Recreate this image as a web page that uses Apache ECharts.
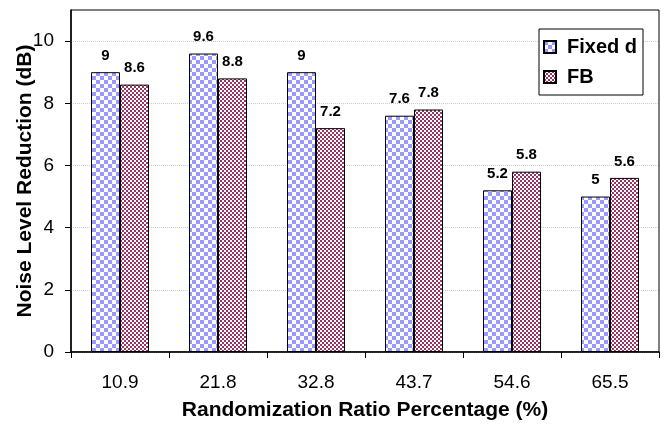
<!DOCTYPE html>
<html>
<head>
<meta charset="utf-8">
<script src="https://cdn.jsdelivr.net/npm/echarts@6/dist/echarts.min.js"></script>
<style>
  html, body { margin: 0; padding: 0; background: #fff; }
  #chart { width: 665px; height: 426px; }
</style>
</head>
<body>
<div id="chart"></div>
<script>
// Randomization ratio (%) on the x axis
const categories = ['10.9', '21.8', '32.8', '43.7', '54.6', '65.5'];
// Noise level reduction (dB) per method
const fixedD = [9, 9.6, 9, 7.6, 5.2, 5];
const fb = [8.6, 8.8, 7.2, 7.8, 5.8, 5.6];
// Labelled y ticks
const yTicks = [0, 2, 4, 6, 8, 10];

const FONT = 'Arial, "Liberation Sans", sans-serif';

// Checkerboard fill tiles drawn on small canvases
function checker(size, fg, bg) {
  const c = document.createElement('canvas');
  c.width = size * 2;
  c.height = size * 2;
  const g = c.getContext('2d');
  g.fillStyle = bg;
  g.fillRect(0, 0, size * 2, size * 2);
  g.fillStyle = fg;
  g.fillRect(0, 0, size, size);
  g.fillRect(size, size, size, size);
  return c;
}
const bluePattern = { image: checker(4, '#9999ff', '#ffffff'), repeat: 'repeat' };
const redPattern = { image: checker(2, '#993366', '#ffffff'), repeat: 'repeat' };

const chart = echarts.init(document.getElementById('chart'), null, { renderer: 'canvas' });

const barLabel = {
  show: true,
  position: 'top',
  distance: 9,
  color: '#000',
  fontFamily: FONT,
  fontWeight: 'bold',
  fontSize: 15
};

chart.setOption({
  animation: false,
  backgroundColor: '#fff',
  grid: {
    left: 71, right: 6, top: 10, bottom: 74,
    outerBoundsMode: 'none',
    show: true, borderColor: '#000', borderWidth: 1
  },
  legend: {
    orient: 'vertical',
    left: 539, top: 29,
    padding: [8, 6, 8, 4],
    itemGap: 10,
    itemWidth: 12, itemHeight: 12,
    backgroundColor: '#fff',
    borderColor: '#000',
    borderWidth: 1,
    borderRadius: 0,
    icon: 'rect',
    textStyle: { color: '#000', fontFamily: FONT, fontWeight: 'bold', fontSize: 20, padding: [0, 0, 0, 6] },
    data: ['Fixed d', 'FB']
  },
  xAxis: {
    type: 'category',
    data: categories,
    name: 'Randomization Ratio Percentage (%)',
    nameLocation: 'middle',
    nameGap: 48,
    nameMoveOverlap: false,
    nameTextStyle: { color: '#000', fontFamily: FONT, fontWeight: 'bold', fontSize: 21 },
    axisLine: { lineStyle: { color: '#000', width: 1.5 } },
    axisTick: { show: true, length: 6, lineStyle: { color: '#000' } },
    axisLabel: { color: '#000', fontFamily: FONT, fontSize: 19, margin: 21 }
  },
  yAxis: {
    type: 'value',
    min: 0, max: 11, interval: 1,
    name: 'Noise Level Reduction (dB)',
    nameLocation: 'middle',
    nameGap: 35,
    nameMoveOverlap: false,
    nameTextStyle: { color: '#000', fontFamily: FONT, fontWeight: 'bold', fontSize: 21 },
    axisLine: { show: true, lineStyle: { color: '#000', width: 1.5 } },
    axisTick: { show: true, length: 6, customValues: yTicks, lineStyle: { color: '#000' } },
    axisLabel: { color: '#000', fontFamily: FONT, fontSize: 19, margin: 17, customValues: yTicks },
    splitLine: { show: true, lineStyle: { color: '#cccccc', type: [1, 1], width: 1 } }
  },
  series: [
    {
      name: 'Fixed d',
      type: 'bar',
      data: fixedD,
      barWidth: 29,
      barGap: '0%',
      itemStyle: { color: bluePattern, borderColor: '#000', borderWidth: 1 },
      label: barLabel
    },
    {
      name: 'FB',
      type: 'bar',
      data: fb,
      barWidth: 29,
      barGap: '0%',
      itemStyle: { color: redPattern, borderColor: '#000', borderWidth: 1 },
      label: barLabel
    }
  ]
});
</script>
</body>
</html>
